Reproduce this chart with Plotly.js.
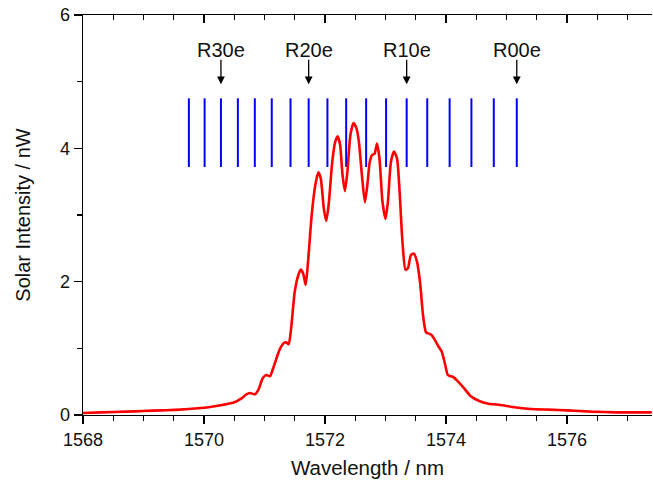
<!DOCTYPE html>
<html>
<head>
<meta charset="utf-8">
<script src="https://cdn.plot.ly/plotly-3.0.1.min.js"></script>
<style>html,body{margin:0;padding:0;background:#fff;}#chart{width:653px;height:485px;}</style>
</head>
<body>
<div id="chart"></div>
<script>
// Solar spectrum (wavelength in nm, intensity in nW)
var wavelength = [
  1568.00,1568.30,1568.70,1569.00,1569.30,1569.60,1569.90,1570.10,1570.30,1570.50,
  1570.62,1570.70,1570.76,1570.84,1570.90,1570.97,1571.03,1571.09,1571.15,1571.25,
  1571.32,1571.36,1571.40,1571.44,1571.50,1571.56,1571.60,1571.64,1571.68,1571.72,
  1571.78,1571.84,1571.89,1571.93,1571.98,1572.02,1572.06,1572.12,1572.17,1572.21,
  1572.25,1572.29,1572.33,1572.37,1572.42,1572.47,1572.52,1572.56,1572.61,1572.66,
  1572.70,1572.74,1572.78,1572.82,1572.86,1572.90,1572.95,1573.00,1573.04,1573.09,
  1573.14,1573.19,1573.23,1573.28,1573.33,1573.37,1573.42,1573.47,1573.52,1573.57,
  1573.62,1573.67,1573.72,1573.76,1573.82,1573.88,1573.93,1573.98,1574.03,1574.08,
  1574.12,1574.20,1574.30,1574.40,1574.55,1574.70,1574.90,1575.10,1575.40,1575.70,
  1576.00,1576.40,1576.80,1577.40
];
var intensity = [
  0.03,0.04,0.05,0.06,0.07,0.08,0.10,0.12,0.15,0.19,
  0.25,0.31,0.33,0.31,0.38,0.55,0.60,0.58,0.72,0.98,
  1.08,1.09,1.06,1.30,1.85,2.10,2.18,2.12,1.95,2.30,
  3.00,3.45,3.64,3.55,3.10,2.91,3.15,3.80,4.10,4.18,
  4.05,3.60,3.36,3.65,4.20,4.38,4.30,4.10,3.60,3.19,
  3.45,3.80,3.90,3.92,4.07,3.85,3.20,2.94,3.20,3.80,
  3.95,3.85,3.40,2.60,2.18,2.20,2.40,2.42,2.30,2.00,
  1.50,1.24,1.22,1.20,1.12,1.02,0.95,0.78,0.60,0.58,
  0.57,0.50,0.40,0.29,0.21,0.17,0.15,0.12,0.09,0.08,
  0.07,0.05,0.04,0.04
];
// Line positions (nm) of the blue marker lines
var linePositions = [
  1569.75,1570.01,1570.28,1570.56,1570.84,1571.12,1571.43,1571.73,1572.04,
  1572.35,1572.68,1573.01,1573.35,1573.69,1574.06,1574.42,1574.79,1575.17
];
var lineBottom = 3.72, lineTop = 4.75;
// Labelled lines
var labelNames = ["R30e","R20e","R10e","R00e"];
var labelPositions = [1570.28,1571.73,1573.35,1575.17];
var arrowTail = 5.35, arrowTip = 4.96, labelY = 5.47;

var lx = [], ly = [];
linePositions.forEach(function(p){ lx.push(p,p,null); ly.push(lineBottom,lineTop,null); });

var xr = [1568, 1577.405];
var fontFam = 'Arial, "Liberation Sans", sans-serif';

var traces = [
  {x: lx, y: ly, mode: 'lines', line: {color: '#0000ff', width: 2}, hoverinfo: 'skip', showlegend: false},
  {x: wavelength, y: intensity, mode: 'lines', line: {color: '#ff0000', width: 2.6, shape: 'spline', smoothing: 0.6}, showlegend: false},
  {x: xr, y: [null,null], xaxis: 'x2', mode: 'lines', showlegend: false, hoverinfo: 'skip'}
];

var annotations = [];
labelNames.forEach(function(n,i){
  annotations.push({x: labelPositions[i], y: labelY, xref: 'x', yref: 'y', text: n, showarrow: false,
    font: {family: fontFam, size: 20, color: '#111'}, xanchor: 'center', yanchor: 'middle'});
  annotations.push({x: labelPositions[i], y: arrowTip, ax: labelPositions[i], ay: arrowTail,
    xref: 'x', yref: 'y', axref: 'x', ayref: 'y', text: '', showarrow: true,
    arrowhead: 2, arrowsize: 1.2, arrowwidth: 1.3, arrowcolor: '#000', standoff: 0, startstandoff: 0});
});

var layout = {
  width: 653, height: 485,
  margin: {l: 83, r: 1, t: 15, b: 70, pad: 0},
  paper_bgcolor: '#fff', plot_bgcolor: '#fff',
  font: {family: fontFam, color: '#111'},
  showlegend: false,
  xaxis: {
    range: xr, dtick: 2, tick0: 1568, ticks: 'outside', ticklen: 8, tickwidth: 1.3, tickcolor: '#000',
    showline: true, linecolor: '#000', linewidth: 1.3, showgrid: false, zeroline: false,
    tickfont: {size: 18, family: fontFam, color: '#111'},
    minor: {dtick: 0.5, tick0: 1568, ticks: 'outside', ticklen: 5, tickwidth: 1.3, tickcolor: '#000', showgrid: false},
    title: {text: 'Wavelength / nm', font: {size: 20.5, family: fontFam, color: '#111'}, standoff: 11}
  },
  xaxis2: {
    range: xr, overlaying: 'x', side: 'top', dtick: 2, tick0: 1568, ticks: 'inside', ticklen: 8, tickwidth: 1.3,
    tickcolor: '#000', showline: true, linecolor: '#000', linewidth: 1.3, showgrid: false, zeroline: false,
    showticklabels: false,
    minor: {dtick: 0.5, tick0: 1568, ticks: 'inside', ticklen: 5, tickwidth: 1.3, tickcolor: '#000', showgrid: false}
  },
  yaxis: {
    range: [0, 6], dtick: 2, ticks: 'outside', ticklen: 8, tickwidth: 1.3, tickcolor: '#000',
    showline: true, linecolor: '#000', linewidth: 1.3, showgrid: false, zeroline: false,
    tickfont: {size: 18, family: fontFam, color: '#111'},
    minor: {dtick: 1, ticks: 'outside', ticklen: 5, tickwidth: 1.3, tickcolor: '#000', showgrid: false},
    title: {text: 'Solar Intensity / nW', font: {size: 20, family: fontFam, color: '#111'}, standoff: 24}
  },
  annotations: annotations
};

Plotly.newPlot('chart', traces, layout, {displayModeBar: false, staticPlot: true});
</script>
</body>
</html>
